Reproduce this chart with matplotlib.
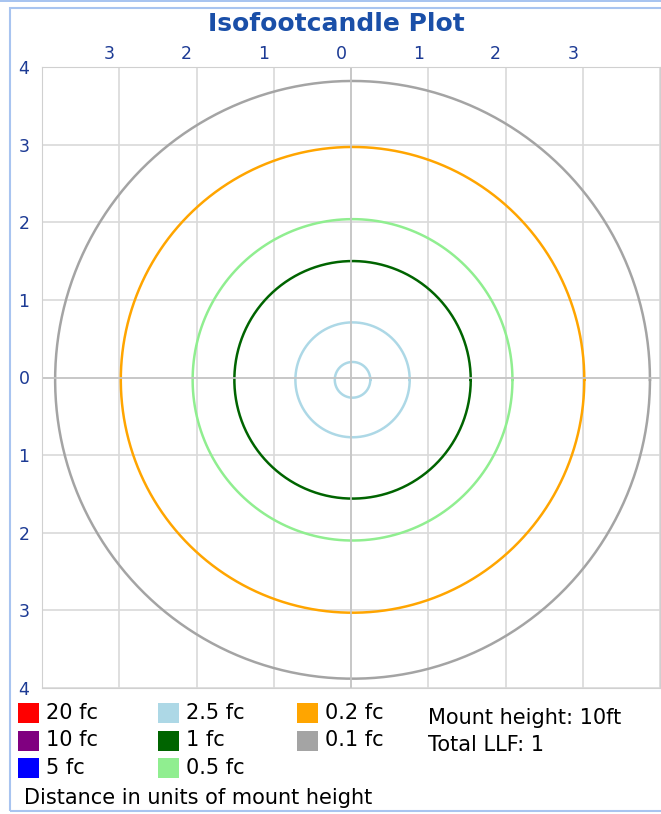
import matplotlib.pyplot as plt
import matplotlib.transforms as mtransforms
from matplotlib.patches import Rectangle
import numpy as np

# contour levels (fc), colours and ring radii (in units of mount height)
levels = ['20 fc', '10 fc', '5 fc', '2.5 fc', '1 fc', '0.5 fc', '0.2 fc', '0.1 fc']
colors = ['#ff0000', '#800080', '#0000ff', '#add8e6', '#006400', '#90ee90', '#ffa500', '#a4a4a4']
radii = [[], [], [], [0.23, 0.74], [1.53], [2.07], [3.0], [3.85]]

ticks = [-4, -3, -2, -1, 0, 1, 2, 3, 4]
top_labels = ['', '3', '2', '1', '0', '1', '2', '3', '']
left_labels = ['4', '3', '2', '1', '0', '1', '2', '3', '4']

info_lines = ['Mount height: 10ft', 'Total LLF: 1']
footer = 'Distance in units of mount height'

W, H = 661, 814
fig = plt.figure(figsize=(W / 100, H / 100), dpi=100)
plt.rcParams['font.family'] = ['DejaVu Sans']

# panel frame
fig.patches.append(Rectangle((10 / W, 3 / H), 1.0, 1 - 11 / H, transform=fig.transFigure,
                             fill=False, edgecolor='#a8c4f0', linewidth=1.5))
fig.patches.append(Rectangle((0, 1 - 2 / H), 1.0, 2 / H, transform=fig.transFigure,
                             facecolor='#a8c4f0', edgecolor='none'))

ax = fig.add_axes([42 / W, (H - 688) / H, (660 - 42) / W, (688 - 67) / H])
ax.set_xlim(-4, 4)
ax.set_ylim(-4, 4)

theta = np.linspace(0, 2 * np.pi, 400)
cx, cy = 0.02, -0.03
for col, rs in zip(colors, radii):
    for r in rs:
        ax.plot(cx + r * np.cos(theta), cy + r * np.sin(theta), color=col, linewidth=1.8)

ax.set_xticks(ticks)
ax.set_yticks(ticks)
ax.set_xticklabels(top_labels)
ax.set_yticklabels(left_labels)
ax.xaxis.tick_top()
ax.tick_params(length=0, labelcolor='#1c3a94', labelsize=12.5)
ax.tick_params(axis='x', pad=3)
ax.tick_params(axis='y', pad=9)
offset = mtransforms.ScaledTranslation(-0.10, 0, fig.dpi_scale_trans)
for lab in ax.get_xticklabels():
    lab.set_transform(lab.get_transform() + offset)

ax.grid(True, color='#d9d9d9', linewidth=1.2)
ax.axhline(0, color='#c4c4c4', linewidth=1.2)
ax.axvline(0, color='#c4c4c4', linewidth=1.2)
ax.set_axisbelow(True)
for s in ax.spines.values():
    s.set_color('#d0d0d0')

fig.text(336 / W, 1 - 24 / H, 'Isofootcandle Plot', ha='center', va='center',
         fontsize=18, fontweight='bold', color='#1a4fa8')

# legend swatches
for i, (lev, col) in enumerate(zip(levels, colors)):
    c, r = divmod(i, 3)
    x0 = 18 + c * 139.5
    y0 = 713 + r * 27.5
    fig.patches.append(Rectangle((x0 / W, 1 - (y0 + 10) / H), 21 / W, 20 / H,
                                 transform=fig.transFigure, facecolor=col, edgecolor='none'))
    fig.text((x0 + 28) / W, 1 - y0 / H, lev, ha='left', va='center', fontsize=15)

for j, t in enumerate(info_lines):
    fig.text(428 / W, 1 - (718 + j * 27) / H, t, ha='left', va='center', fontsize=15)

fig.text(24 / W, 1 - 798 / H, footer, ha='left', va='center', fontsize=15)

fig.savefig('out.png', dpi=100)
